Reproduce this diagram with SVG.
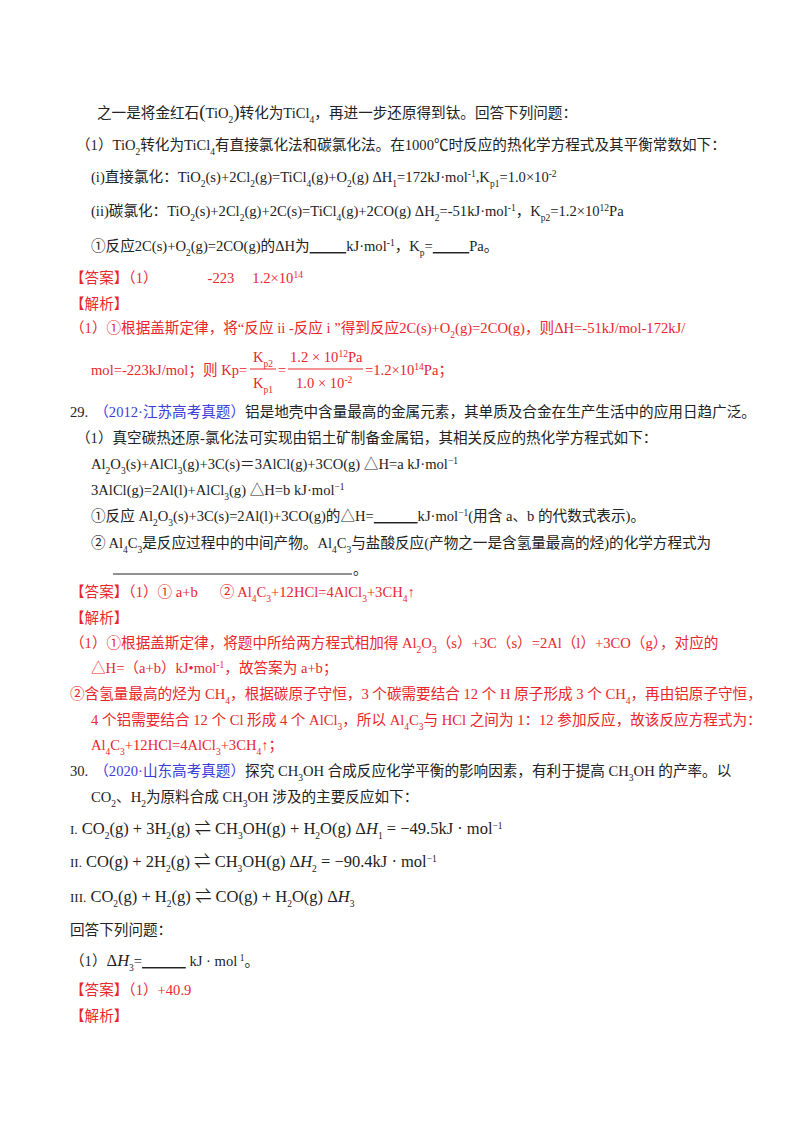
<svg xmlns="http://www.w3.org/2000/svg" width="800" height="1132" viewBox="0 0 800 1132">
<style>
text{font-family:"Liberation Serif","Noto Sans CJK SC",serif;font-size:14.6px;fill:#222}
.r{fill:#e8262b}
.bl{fill:#3b3bd6}
.m{font-size:16.5px}
.b{font-size:9.5px;baseline-shift:sub}
.p{font-size:9.5px;baseline-shift:super}
.ul{text-decoration:underline}
</style>
<rect width="800" height="1132" fill="#fff"/>
<g id="q28">
<text x="97" y="118">之一是将金红石<tspan font-size="19">(</tspan>TiO<tspan class="b">2</tspan><tspan font-size="19">)</tspan>转化为TiCl<tspan class="b">4</tspan>，再进一步还原得到钛。回答下列问题：</text>
<text x="76" y="150">（1）TiO<tspan class="b">2</tspan>转化为TiCl<tspan class="b">4</tspan>有直接氯化法和碳氯化法。在1000℃时反应的热化学方程式及其平衡常数如下：</text>
<text x="91" y="182">(i)直接氯化：TiO<tspan class="b">2</tspan>(s)+2Cl<tspan class="b">2</tspan>(g)=TiCl<tspan class="b">4</tspan>(g)+O<tspan class="b">2</tspan>(g) ΔH<tspan class="b">1</tspan>=172kJ·mol<tspan class="p">-1</tspan>,K<tspan class="b">p1</tspan>=1.0×10<tspan class="p">-2</tspan></text>
<text x="91" y="216">(ii)碳氯化：TiO<tspan class="b">2</tspan>(s)+2Cl<tspan class="b">2</tspan>(g)+2C(s)=TiCl<tspan class="b">4</tspan>(g)+2CO(g)   ΔH<tspan class="b">2</tspan>=-51kJ·mol<tspan class="p">-1</tspan>，K<tspan class="b">p2</tspan>=1.2×10<tspan class="p">12</tspan>Pa</text>
<text x="91" y="251">①反应2C(s)+O<tspan class="b">2</tspan>(g)=2CO(g)的ΔH为<tspan class="ul">&#160;&#160;&#160;&#160;&#160;&#160;&#160;&#160;&#160;&#160;</tspan>kJ·mol<tspan class="p">-1</tspan>，K<tspan class="b">p</tspan>=<tspan class="ul">&#160;&#160;&#160;&#160;&#160;&#160;&#160;&#160;&#160;&#160;</tspan>Pa。</text>
<text x="70" y="283" class="r">【答案】（1）<tspan dx="50">-223</tspan><tspan dx="18">1.2×10</tspan><tspan class="p">14</tspan></text>
<text x="70" y="309" class="r">【解析】</text>
<text x="70" y="333" class="r">（1）①根据盖斯定律，将“反应 ii -反应 i ”得到反应2C(s)+O<tspan class="b">2</tspan>(g)=2CO(g)，则ΔH=-51kJ/mol-172kJ/</text>
<text x="91" y="375" class="r">mol=-223kJ/mol；则 Kp=</text>
<text x="253" y="362" class="r">K<tspan class="b">p2</tspan></text>
<line x1="250" y1="369" x2="276" y2="369" stroke="#e8262b"/>
<text x="253" y="388" class="r">K<tspan class="b">p1</tspan></text>
<text x="278" y="375" class="r">=</text>
<text x="290" y="362" class="r">1.2 × 10<tspan class="p">12</tspan>Pa</text>
<line x1="288" y1="369" x2="363" y2="369" stroke="#e8262b"/>
<text x="296" y="388" class="r">1.0 × 10<tspan class="p">-2</tspan></text>
<text x="365" y="375" class="r">=1.2×10<tspan class="p">14</tspan>Pa；</text>
</g>
<g id="q29">
<text x="70" y="417">29.<tspan class="bl" dx="6">（2012·江苏高考真题）</tspan>铝是地壳中含量最高的金属元素，其单质及合金在生产生活中的应用日趋广泛。</text>
<text x="76" y="443">（1）真空碳热还原-氯化法可实现由铝土矿制备金属铝，其相关反应的热化学方程式如下：</text>
<text x="91" y="469">Al<tspan class="b">2</tspan>O<tspan class="b">3</tspan>(s)+AlCl<tspan class="b">3</tspan>(g)+3C(s)＝3AlCl(g)+3CO(g)  △H=a kJ·mol<tspan class="p">−1</tspan></text>
<text x="91" y="495">3AlCl(g)=2Al(l)+AlCl<tspan class="b">3</tspan>(g)  △H=b kJ·mol<tspan class="p">−1</tspan></text>
<text x="91" y="521">①反应 Al<tspan class="b">2</tspan>O<tspan class="b">3</tspan>(s)+3C(s)=2Al(l)+3CO(g)的△H=<tspan class="ul">&#160;&#160;&#160;&#160;&#160;&#160;&#160;&#160;&#160;&#160;&#160;&#160;</tspan>kJ·mol<tspan class="p">−1</tspan>(用含 a、b 的代数式表示)。</text>
<text x="91" y="548">② Al<tspan class="b">4</tspan>C<tspan class="b">3</tspan>是反应过程中的中间产物。Al<tspan class="b">4</tspan>C<tspan class="b">3</tspan>与盐酸反应(产物之一是含氢量最高的烃)的化学方程式为</text>
<line stroke="#222" x1="113" y1="574" x2="352" y2="574"/>
<text x="353" y="574">。</text>
<text x="70" y="597" class="r">【答案】（1）① a+b<tspan dx="22">② Al</tspan><tspan class="b">4</tspan>C<tspan class="b">3</tspan>+12HCl=4AlCl<tspan class="b">3</tspan>+3CH<tspan class="b">4</tspan>↑</text>
<text x="70" y="623" class="r">【解析】</text>
<text x="70" y="648" class="r">（1）①根据盖斯定律，将题中所给两方程式相加得 Al<tspan class="b">2</tspan>O<tspan class="b">3</tspan>（s）+3C（s）=2Al（l）+3CO（g），对应的</text>
<text x="91" y="673" class="r">△H=（a+b）kJ•mol<tspan class="p">-1</tspan>，故答案为 a+b；</text>
<text x="70" y="699" class="r">②含氢量最高的烃为 CH<tspan class="b">4</tspan>，根据碳原子守恒，3 个碳需要结合 12 个 H 原子形成 3 个 CH<tspan class="b">4</tspan>，再由铝原子守恒，</text>
<text x="91" y="725" class="r">4 个铝需要结合 12 个 Cl 形成 4 个 AlCl<tspan class="b">3</tspan>，所以 Al<tspan class="b">4</tspan>C<tspan class="b">3</tspan>与 HCl 之间为 1：12 参加反应，故该反应方程式为：</text>
<text x="91" y="750" class="r">Al<tspan class="b">4</tspan>C<tspan class="b">3</tspan>+12HCl=4AlCl<tspan class="b">3</tspan>+3CH<tspan class="b">4</tspan>↑；</text>
</g>
<g id="q30">
<text x="70" y="776">30.<tspan class="bl" dx="6">（2020·山东高考真题）</tspan>探究 CH<tspan class="b">3</tspan>OH 合成反应化学平衡的影响因素，有利于提高 CH<tspan class="b">3</tspan>OH 的产率。以</text>
<text x="91" y="802">CO<tspan class="b">2</tspan>、H<tspan class="b">2</tspan>为原料合成 CH<tspan class="b">3</tspan>OH 涉及的主要反应如下：</text>
<text x="70" y="834" class="m"><tspan font-size="13">I.</tspan> CO<tspan class="b">2</tspan>(g) + 3H<tspan class="b">2</tspan>(g) ⇌  CH<tspan class="b">3</tspan>OH(g) + H<tspan class="b">2</tspan>O(g)   Δ<tspan font-style="italic">H</tspan><tspan class="b">1</tspan> = −49.5kJ · mol<tspan class="p">−1</tspan></text>
<text x="70" y="867" class="m"><tspan font-size="13">II.</tspan> CO(g) + 2H<tspan class="b">2</tspan>(g) ⇌  CH<tspan class="b">3</tspan>OH(g)   Δ<tspan font-style="italic">H</tspan><tspan class="b">2</tspan> = −90.4kJ · mol<tspan class="p">−1</tspan></text>
<text x="70" y="902" class="m"><tspan font-size="13">III.</tspan> CO<tspan class="b">2</tspan>(g) + H<tspan class="b">2</tspan>(g) ⇌  CO(g) + H<tspan class="b">2</tspan>O(g)   Δ<tspan font-style="italic">H</tspan><tspan class="b">3</tspan></text>
<text x="70" y="935">回答下列问题：</text>
<text x="70" y="966">（1）<tspan class="m">Δ<tspan font-style="italic">H</tspan></tspan><tspan class="b">3</tspan>=<tspan class="ul">&#160;&#160;&#160;&#160;&#160;&#160;&#160;&#160;&#160;&#160;&#160;&#160;</tspan> kJ · mol<tspan class="p"> 1</tspan>。</text>
<text x="70" y="995" class="r">【答案】（1）+40.9</text>
<text x="70" y="1021" class="r">【解析】</text>
</g>
</svg>
